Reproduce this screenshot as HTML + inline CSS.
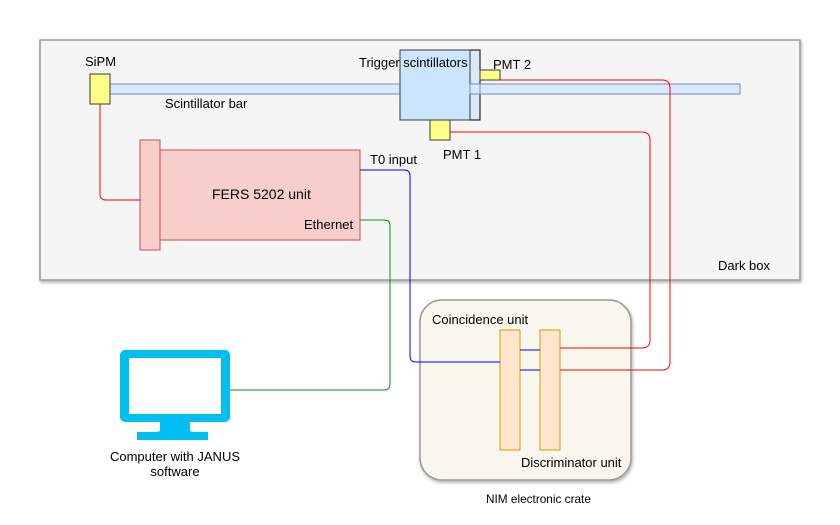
<!DOCTYPE html>
<html><head><style>
body{margin:0;background:#fff;}
svg text{font-family:"Liberation Sans",sans-serif;font-size:13px;fill:#000;}
</style></head><body>
<svg width="840" height="520" viewBox="0 0 840 520" xmlns="http://www.w3.org/2000/svg">
<defs><filter id="sh"><feDropShadow dx="1" dy="2" stdDeviation="1.5" flood-opacity="0.3"/></filter></defs>
<rect x="40" y="40" width="760" height="240" fill="#f5f5f5" stroke="#999" stroke-width="1.5" filter="url(#sh)"/>
<text x="718" y="270">Dark box</text>
<rect x="110" y="84" width="630" height="10" fill="#dae8fc" stroke="#6c8ebf"/>
<text x="165" y="108">Scintillator bar</text>
<rect x="90" y="74" width="20" height="30" fill="#ffff88" stroke="#36393d"/>
<text x="85" y="66">SiPM</text>
<rect x="470" y="50" width="10" height="70" fill="#dae8fc" stroke="#000" />
<rect x="400" y="50" width="70" height="70" fill="#cce5ff" stroke="#36393d"/>
<rect x="470" y="84" width="10" height="10" fill="#dae8fc" stroke="#6c8ebf"/>
<text x="359" y="67">Trigger scintillators</text>
<rect x="480" y="70" width="20" height="10" fill="#ffff88" stroke="#36393d"/>
<text x="493" y="69">PMT 2</text>
<rect x="430" y="120" width="20" height="20" fill="#ffff88" stroke="#36393d"/>
<text x="443" y="159">PMT 1</text>
<rect x="160" y="150" width="200" height="90" fill="#f8cecc" stroke="#b85450"/>
<rect x="140" y="140" width="20" height="110" fill="#f8cecc" stroke="#b85450"/>
<text x="212" y="199" style="font-size:14px">FERS 5202 unit</text>
<text x="304" y="229">Ethernet</text>
<text x="370" y="164">T0 input</text>
<rect x="420" y="300" width="211" height="180" rx="22" fill="#f9f7ed" stroke="#999" stroke-width="1.5" filter="url(#sh)"/>
<text x="432" y="324">Coincidence unit</text>
<text x="521" y="467">Discriminator unit</text>
<text x="486" y="503" style="font-size:11.8px">NIM electronic crate</text>
<rect x="500" y="330" width="20" height="120" fill="#ffe6cc" stroke="#d79b00"/>
<rect x="540" y="330" width="20" height="120" fill="#ffe6cc" stroke="#d79b00"/>
<g fill="none" stroke-width="1">
<path d="M100 104 V194 Q100 200 106 200 H140" stroke="#ff0000"/>
<path d="M500 80 H662 Q670 80 670 88 V362 Q670 370 662 370 H560" stroke="#ff0000"/>
<path d="M450 132 H642 Q650 132 650 140 V340 Q650 348 642 348 H560" stroke="#ff0000"/>
<path d="M360 170 H404 Q410 170 410 176 V356 Q410 362 416 362 H500" stroke="#0000ff"/>
<path d="M520 350 H540 M520 370 H540" stroke="#0000ff"/>
<path d="M360 220 H384 Q390 220 390 226 V384 Q390 390 384 390 H230" stroke="#009900"/>
</g>
<rect x="120" y="350" width="110" height="72" rx="5" fill="#00bef2"/>
<rect x="129" y="358" width="92" height="56" fill="#fff"/>
<path d="M160 422 H190 V430 Q190 432 195 432 H208 V440 H137 V432 H155 Q160 432 160 430 Z" fill="#00bef2"/>
<text x="175" y="461" text-anchor="middle">Computer with JANUS</text>
<text x="175" y="476" text-anchor="middle">software</text>
</svg>
</body></html>
